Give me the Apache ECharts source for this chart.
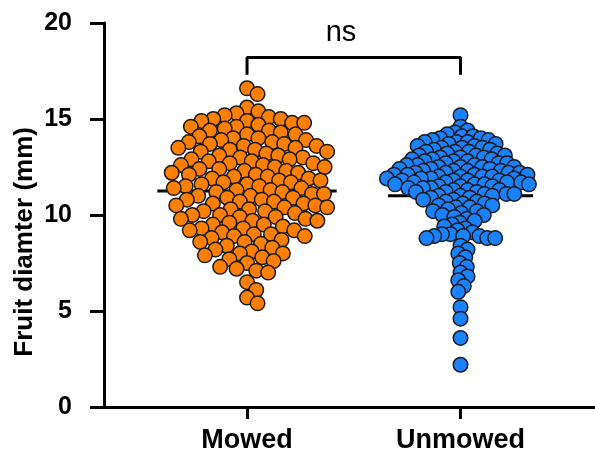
<!DOCTYPE html>
<html>
<head>
<meta charset="utf-8">
<script src="https://cdn.jsdelivr.net/npm/echarts@6/dist/echarts.min.js"></script>
<style>
html, body { margin: 0; padding: 0; background: #ffffff; }
#chart { width: 595px; height: 459px; }
</style>
</head>
<body>
<div id="chart"></div>
<script>
// 数据
var categories = ['Mowed', 'Unmowed'];
var yTicks = [0, 5, 10, 15, 20];
var groupMeans = [11.25, 11.0];
var sigLabel = 'ns';
var yName = 'Fruit diamter (mm)';

var mowed = [
  16.6, 16.3,
  15.6, 15.4, 15.3, 15.2, 15.1, 15.0, 15.0, 14.9, 14.9,
  14.8, 14.8, 14.7, 14.6, 14.6, 14.5, 14.4, 14.4, 14.3, 14.2, 14.2, 14.1, 14.0, 14.0, 13.9, 13.9, 13.8, 13.8,
  13.7, 13.7, 13.6, 13.6, 13.5, 13.5, 13.4, 13.4, 13.3, 13.3, 13.2, 13.1, 13.1, 13.0, 13.0, 12.9, 12.9, 12.8, 12.8,
  12.7, 12.7, 12.6, 12.6, 12.5, 12.5, 12.4, 12.4, 12.3, 12.3, 12.2, 12.2, 12.1, 12.1, 12.0, 12.0, 11.9, 11.9, 11.8, 11.8,
  11.7, 11.7, 11.6, 11.6, 11.5, 11.5, 11.4, 11.4, 11.3, 11.3, 11.2, 11.2, 11.1, 11.1, 11.0, 11.0,
  10.9, 10.9, 10.8, 10.8, 10.7, 10.7, 10.6, 10.6, 10.5, 10.5, 10.4, 10.4, 10.3, 10.3, 10.2, 10.2, 10.1, 10.0, 10.0,
  9.9, 9.9, 9.8, 9.8, 9.7, 9.7, 9.6, 9.5, 9.5, 9.4, 9.3, 9.3, 9.2, 9.2, 9.1, 9.0, 9.0,
  8.9, 8.9, 8.8, 8.7, 8.6, 8.6, 8.5, 8.4, 8.3, 8.2, 8.1, 8.0, 8.0,
  7.9, 7.8, 7.7, 7.6, 7.5, 7.3, 7.2, 7.1, 7.0,
  6.5, 6.1, 5.7, 5.4
];

var unmowed = [
  15.2, 14.6, 14.4, 14.3, 14.2, 14.1, 14.1, 14.0, 14.0, 13.9, 13.9, 13.8, 13.8, 13.8, 13.7, 13.7, 13.6, 13.6,
  13.5, 13.5, 13.5, 13.4, 13.4, 13.3, 13.3, 13.3, 13.2, 13.2, 13.1, 13.1, 13.1, 13.0, 13.0, 13.0,
  12.9, 12.9, 12.9, 12.8, 12.8, 12.8, 12.7, 12.7, 12.7, 12.6, 12.6, 12.6, 12.5, 12.5, 12.5, 12.5,
  12.4, 12.4, 12.4, 12.3, 12.3, 12.3, 12.3, 12.2, 12.2, 12.2, 12.2, 12.1, 12.1, 12.1, 12.1,
  12.0, 12.0, 12.0, 12.0,
  11.9, 11.9, 11.9, 11.9, 11.8, 11.8, 11.8, 11.8, 11.7, 11.7, 11.7, 11.7, 11.6, 11.6, 11.6, 11.6,
  11.5, 11.5, 11.5, 11.4, 11.4, 11.4, 11.3, 11.3, 11.3, 11.2, 11.2, 11.2, 11.1, 11.1, 11.1, 11.0, 11.0, 11.0,
  10.9, 10.9, 10.8, 10.8, 10.7, 10.7, 10.6, 10.6, 10.5, 10.5, 10.4, 10.4, 10.3, 10.2, 10.2, 10.1, 10.0, 10.0,
  9.9, 9.8, 9.7, 9.6, 9.5, 9.4, 9.3, 9.2, 9.1, 9.0, 9.0, 8.9, 8.9, 8.9, 8.8, 8.8, 8.8,
  8.4, 8.2, 8.0, 7.8, 7.5, 7.3, 7.0, 6.8, 6.6, 6.3, 6.0, 5.2, 4.6, 3.6, 2.2
];

var groups = [mowed, unmowed];
var colors = ['#ff8000', '#1a82ff'];
var spacing = [12, 8];        // 点之间最小像素距离
var meanHalfWidth = [0.42, 0.34];

var FONT = 'Liberation Sans, Arial, sans-serif';
var myChart = echarts.init(document.getElementById('chart'));

myChart.setOption({
  animation: false,
  grid: { left: 104, right: 0, top: 23, bottom: 52 },
  xAxis: {
    type: 'value',
    min: 0.33,
    max: 2.63,
    splitLine: { show: false },
    axisLine: { lineStyle: { color: '#000', width: 3 } },
    axisTick: { customValues: [1, 2], length: 12, lineStyle: { color: '#000', width: 3 } },
    axisLabel: {
      customValues: [1, 2],
      margin: 20,
      color: '#000',
      fontFamily: FONT,
      fontWeight: 'bold',
      fontSize: 27,
      formatter: function (v) { return categories[Math.round(v) - 1]; }
    }
  },
  yAxis: {
    type: 'value',
    min: yTicks[0],
    max: yTicks[yTicks.length - 1],
    interval: 5,
    splitLine: { show: false },
    axisLine: { show: true, lineStyle: { color: '#000', width: 3 } },
    axisTick: { show: true, length: 14, lineStyle: { color: '#000', width: 3 } },
    axisLabel: { margin: 32, color: '#000', fontFamily: FONT, fontWeight: 'bold', fontSize: 25 }
  },
  series: []
});

// 蜂群图布局
var p0 = myChart.convertToPixel({ gridIndex: 0 }, [1, 0]);
var p1 = myChart.convertToPixel({ gridIndex: 0 }, [2, 1]);
var pxPerX = p1[0] - p0[0];
var pxPerY = p0[1] - p1[1];

function swarm(values, center, minDist) {
  var sorted = values.slice().sort(function (a, b) { return b - a; });
  var placed = [];
  var out = [];
  sorted.forEach(function (v) {
    var y = v * pxPerY;
    var cands = [0];
    placed.forEach(function (p) {
      var dy = Math.abs(p.y - y);
      if (dy < minDist) {
        var dx = Math.sqrt(minDist * minDist - dy * dy);
        cands.push(p.x + dx, p.x - dx);
      }
    });
    cands.sort(function (a, b) { return Math.abs(a) - Math.abs(b); });
    var best = 0;
    for (var i = 0; i < cands.length; i++) {
      var ok = true;
      for (var j = 0; j < placed.length; j++) {
        var ddx = placed[j].x - cands[i], ddy = placed[j].y - y;
        if (ddx * ddx + ddy * ddy < minDist * minDist - 0.01) { ok = false; break; }
      }
      if (ok) { best = cands[i]; break; }
    }
    placed.push({ x: best, y: y });
    out.push([center + best / pxPerX, v]);
  });
  return out;
}

var series = [];
groups.forEach(function (vals, i) {
  var c = i + 1;
  series.push({
    type: 'line',
    z: 1,
    symbol: 'none',
    silent: true,
    lineStyle: { color: '#000', width: 3 },
    data: [[c - meanHalfWidth[i], groupMeans[i]], [c + meanHalfWidth[i], groupMeans[i]]]
  });
  series.push({
    type: 'scatter',
    z: 2,
    symbolSize: 14.5,
    itemStyle: { color: colors[i], borderColor: '#1a1a1a', borderWidth: 1.5, opacity: 1 },
    data: swarm(vals, c, spacing[i])
  });
});

// 显著性标注
var bracketTop = 18.2, bracketLeg = 17.3;
series.push({
  type: 'line',
  symbol: 'none',
  silent: true,
  lineStyle: { color: '#000', width: 3 },
  data: [[1, bracketLeg], [1, bracketTop], [2, bracketTop], [2, bracketLeg]]
});

myChart.setOption({ series: series });

var nsPos = myChart.convertToPixel({ gridIndex: 0 }, [1.44, 19.5]);
var namePos = myChart.convertToPixel({ gridIndex: 0 }, [0, 8.6]);
myChart.setOption({
  graphic: [{
    type: 'text',
    x: 25,
    y: namePos[1],
    rotation: Math.PI / 2,
    style: {
      text: yName,
      fill: '#000',
      font: 'bold 26px ' + FONT,
      textAlign: 'center',
      textVerticalAlign: 'middle'
    }
  }, {
    type: 'text',
    x: nsPos[0],
    y: nsPos[1],
    style: {
      text: sigLabel,
      fill: '#000',
      font: '29px ' + FONT,
      textAlign: 'center',
      textVerticalAlign: 'middle'
    }
  }]
});
</script>
</body>
</html>
